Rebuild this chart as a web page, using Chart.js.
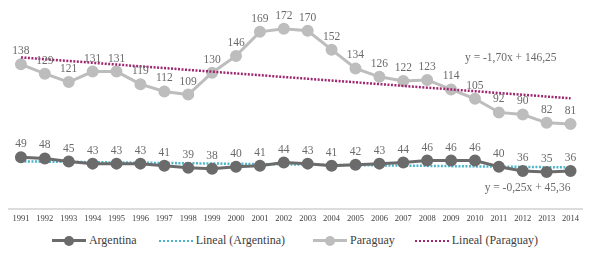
<!DOCTYPE html>
<html><head><meta charset="utf-8">
<script src="https://cdn.jsdelivr.net/npm/chart.js@4"></script>
<style>
html,body{margin:0;padding:0;background:#fff;}
#wrap{position:relative;width:590px;height:225px;}
#legend{display:flex;justify-content:center;align-items:center;font-family:"Liberation Serif",serif;font-size:12px;color:#404040;margin-top:8px;margin-left:0px;}
.it{display:flex;align-items:center;}
.ln{position:relative;width:34px;height:0;margin-right:3px;}
.solid{border-top:3px solid;}
.dot{position:absolute;left:12px;top:-6.5px;width:10px;height:10px;border-radius:50%;}
.dash{border-top:2.5px dotted;}
</style></head>
<body>
<div id="wrap"><canvas id="c"></canvas></div>
<div id="legend">
 <div class="it" style="margin-right:22px"><span class="ln solid" style="border-color:#6b6b6b"><span class="dot" style="background:#6b6b6b"></span></span>Argentina</div>
 <div class="it" style="margin-right:28px"><span class="ln dash" style="border-color:#4bb5c9"></span>Lineal (Argentina)</div>
 <div class="it" style="margin-right:20px"><span class="ln solid" style="border-color:#bdbdbd"><span class="dot" style="background:#bdbdbd"></span></span>Paraguay</div>
 <div class="it"><span class="ln dash" style="border-color:#a0256f"></span>Lineal (Paraguay)</div>
</div>
<script>
const years = ["1991","1992","1993","1994","1995","1996","1997","1998","1999","2000","2001","2002","2003","2004","2005","2006","2007","2008","2009","2010","2011","2012","2013","2014"];
const argentina = [49,48,45,43,43,43,41,39,38,40,41,44,43,41,42,43,44,46,46,46,40,36,35,36];
const paraguay = [138,129,121,131,131,119,112,109,130,146,169,172,170,152,134,126,122,123,114,105,92,90,82,81];
const trendArgentina = [45.11,44.86,44.61,44.36,44.11,43.86,43.61,43.36,43.11,42.86,42.61,42.36,42.11,41.86,41.61,41.36,41.11,40.86,40.61,40.36,40.11,39.86,39.61,39.36];
const trendParaguay = [144.55,142.85,141.15,139.45,137.75,136.05,134.35,132.65,130.95,129.25,127.55,125.85,124.15,122.45,120.75,119.05,117.35,115.65,113.95,112.25,110.55,108.85,107.15,105.45];
const eqParaguay = "y = -1,70x + 146,25";
const eqArgentina = "y = -0,25x + 45,36";

const labelsPlugin = {
  id:'lbl',
  afterDatasetsDraw(chart){
    const ctx = chart.ctx;
    ctx.save();
    ctx.font = '11.5px "Liberation Serif", serif';
    ctx.fillStyle = '#6a6a6a';
    ctx.textAlign = 'center';
    ctx.textBaseline = 'middle';
    chart.data.datasets.forEach((ds,i)=>{
      if(!ds.showLabels) return;
      const meta = chart.getDatasetMeta(i);
      meta.data.forEach((pt,j)=>{
        ctx.fillText(String(ds.data[j]), pt.x, pt.y - 13);
      });
    });
    const xs = chart.scales.x, ys = chart.scales.y;
    ctx.font = '11.5px "Liberation Serif", serif';
    ctx.fillText(eqParaguay, xs.getPixelForValue(20.5), ys.getPixelForValue(144));
    ctx.fillText(eqArgentina, xs.getPixelForValue(21.2), ys.getPixelForValue(19.5));
    ctx.restore();
  }
};

new Chart(document.getElementById('c'), {
  type:'line',
  data:{
    labels: years,
    datasets:[
      {label:'Lineal (Paraguay)', data: trendParaguay, borderColor:'#a0256f', borderWidth:2.5, borderDash:[2,1.5], pointRadius:0, order:0},
      {label:'Lineal (Argentina)', data: trendArgentina, borderColor:'#4bb5c9', borderWidth:2.5, borderDash:[2,1.5], pointRadius:0, order:3},
      {label:'Argentina', data: argentina, borderColor:'#6b6b6b', backgroundColor:'#6b6b6b', borderWidth:3, pointRadius:4.5, pointHoverRadius:4.5, showLabels:true, order:1},
      {label:'Paraguay', data: paraguay, borderColor:'#bdbdbd', backgroundColor:'#bdbdbd', borderWidth:3, pointRadius:4.5, pointHoverRadius:4.5, showLabels:true, order:2}
    ]
  },
  options:{
    responsive:true, maintainAspectRatio:false, animation:false,
    layout:{padding:{left:9,right:7,top:0,bottom:0}},
    plugins:{legend:{display:false}, tooltip:{enabled:false}},
    scales:{
      x:{offset:true, grid:{display:false, drawTicks:false}, border:{color:'#dcdcdc', width:2},
         ticks:{font:{family:'"Liberation Serif", serif', size:8.5}, color:'#404040', maxRotation:0, autoSkip:false, padding:5},
         afterFit:(s)=>{ s.height = 16.4; }},
      y:{display:false, min:0, max:192.3}
    }
  },
  plugins:[labelsPlugin]
});
</script>
</body></html>
